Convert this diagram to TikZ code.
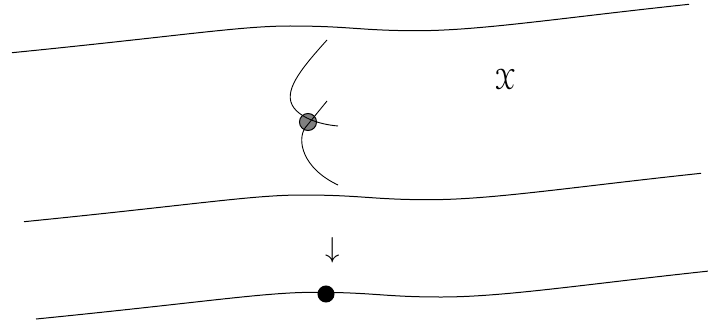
\documentclass[tikz,border=0pt]{standalone}
\usepackage{amssymb}
\usepackage[mathcal]{eucal}
\begin{document}
\begin{tikzpicture}[x=0.017585cm, y=-0.017585cm, line width=0.5pt,
  sheet/.pic={\draw (0,0) .. controls (168,-16.7) and (228,-26.7) .. (278,-26.7)
     .. controls (338,-26.7) and (348,-22) .. (405,-22)
     .. controls (468,-22) and (548,-34.7) .. (677,-48.4);},
  fibre/.style={line width=0.45pt}]
\useasboundingbox (0,0) rectangle (708,323);
% the family and the base
\pic at (12,52.7) {sheet};
\pic at (24,221.7) {sheet};
\pic at (36,319) {sheet};
\node[circle, draw, fill=gray, inner sep=0pt, minimum size=0.3cm] (pt) at (308,122) {};
\draw[fibre] (327,40) .. controls (300,70) and (282,92) .. (294,108)
  .. controls (300,116) and (315,124) .. (338,126);
\draw[fibre] (327,101) -- (305,128) .. controls (297,140) and (302,168) .. (338,185);
\node[circle, fill=black, inner sep=0pt, minimum size=0.3cm] (img) at (326,294) {};
\node (map) at (333,250) {\Large $\downarrow$};
\node (X) at (505,79) {\Large $\mathcal{X}$};
\end{tikzpicture}
\end{document}
